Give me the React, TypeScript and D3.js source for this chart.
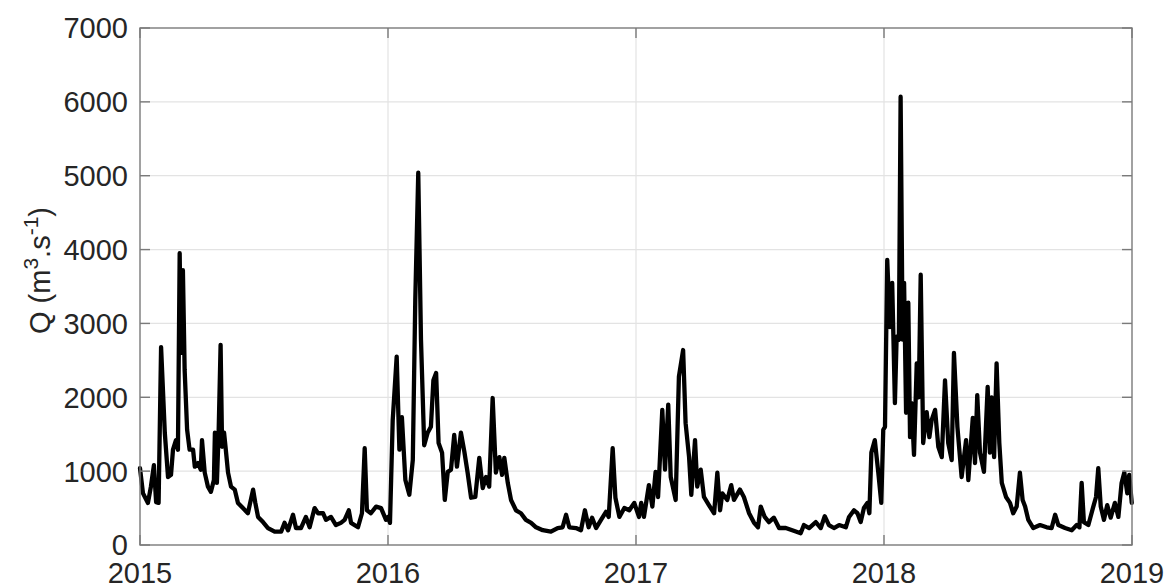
import React, { useRef, useEffect } from 'react';
import * as d3 from 'd3';

// [fraction of year, discharge m3/s]
const flow2015: [number, number][] = [
  [0, 1040], [0.012, 700], [0.032, 570], [0.044, 790], [0.056, 1080], [0.065, 580],
  [0.075, 570], [0.085, 2680], [0.1, 1520], [0.113, 920], [0.125, 950], [0.133, 1290],
  [0.145, 1420], [0.153, 1290], [0.16, 3950], [0.165, 2600], [0.173, 3720], [0.18, 2370],
  [0.19, 1560], [0.2, 1290], [0.214, 1290], [0.221, 1060], [0.234, 1110], [0.245, 1020],
  [0.25, 1420], [0.261, 980], [0.274, 790], [0.286, 720], [0.298, 880], [0.302, 1520],
  [0.31, 840], [0.317, 1520], [0.325, 2710], [0.331, 1330], [0.339, 1520], [0.346, 1290],
  [0.355, 980], [0.367, 790], [0.382, 750], [0.395, 570], [0.415, 500], [0.435, 430],
  [0.456, 750], [0.465, 570], [0.476, 380], [0.496, 310], [0.516, 230], [0.543, 180],
  [0.569, 180], [0.583, 300], [0.597, 200], [0.617, 410], [0.629, 230], [0.649, 230],
  [0.669, 380], [0.684, 240], [0.704, 500], [0.718, 430], [0.738, 430], [0.75, 340],
  [0.77, 380], [0.79, 270], [0.81, 300], [0.825, 340], [0.842, 470], [0.851, 300],
  [0.879, 240], [0.895, 430], [0.906, 1310], [0.915, 470], [0.931, 430], [0.952, 520],
  [0.972, 500], [0.992, 340],
];

const flow2016: [number, number][] = [
  [0, 380], [0.008, 300], [0.019, 1690], [0.035, 2550], [0.046, 1290], [0.056, 1730],
  [0.07, 880], [0.086, 680], [0.1, 1150], [0.11, 3320], [0.122, 5040], [0.133, 2780],
  [0.146, 1350], [0.16, 1520], [0.173, 1600], [0.183, 2230], [0.194, 2330], [0.204, 1380],
  [0.218, 1250], [0.229, 610], [0.241, 990], [0.254, 1020], [0.267, 1490], [0.278, 1060],
  [0.294, 1520], [0.308, 1260], [0.321, 980], [0.335, 640], [0.352, 650], [0.368, 1180],
  [0.382, 770], [0.395, 920], [0.408, 790], [0.422, 1990], [0.435, 980], [0.449, 1190],
  [0.46, 950], [0.469, 1180], [0.483, 840], [0.496, 610], [0.516, 470], [0.536, 430],
  [0.556, 340], [0.577, 300], [0.597, 240], [0.624, 200], [0.657, 180], [0.684, 230],
  [0.704, 240], [0.718, 410], [0.731, 240], [0.758, 230], [0.778, 200], [0.794, 470],
  [0.809, 240], [0.823, 370], [0.839, 230], [0.859, 340], [0.879, 450], [0.89, 380],
  [0.906, 1310], [0.917, 640], [0.933, 380], [0.953, 500], [0.973, 470], [0.993, 570],
];

const flow2017: [number, number][] = [
  [0.012, 380], [0.021, 570], [0.032, 380], [0.052, 810], [0.066, 520], [0.079, 990],
  [0.089, 650], [0.106, 1830], [0.117, 1020], [0.13, 1900], [0.14, 920], [0.16, 610],
  [0.173, 2280], [0.19, 2640], [0.2, 1650], [0.214, 1190], [0.223, 680], [0.238, 1420],
  [0.247, 790], [0.261, 1020], [0.274, 650], [0.294, 540], [0.315, 430], [0.328, 980],
  [0.339, 470], [0.348, 700], [0.368, 610], [0.384, 810], [0.395, 610], [0.419, 750],
  [0.435, 650], [0.456, 430], [0.476, 300], [0.492, 240], [0.503, 520], [0.519, 380],
  [0.536, 310], [0.556, 370], [0.577, 230], [0.604, 230], [0.63, 200], [0.664, 160],
  [0.677, 270], [0.698, 230], [0.725, 310], [0.745, 230], [0.761, 390], [0.778, 270],
  [0.798, 230], [0.819, 270], [0.846, 240], [0.859, 380], [0.879, 470], [0.893, 430],
  [0.906, 310], [0.919, 500], [0.933, 570], [0.941, 430], [0.949, 1250], [0.963, 1420],
  [0.977, 980], [0.989, 570], [0.997, 1560],
];

const flow2018: [number, number][] = [
  [0.004, 1600], [0.013, 3860], [0.024, 2950], [0.033, 3550], [0.044, 1920], [0.051, 2820],
  [0.06, 2780], [0.067, 6070], [0.075, 2780], [0.081, 3550], [0.089, 1790], [0.098, 3280],
  [0.105, 1460], [0.111, 1920], [0.121, 1220], [0.132, 2460], [0.14, 2000], [0.148, 3660],
  [0.158, 1380], [0.172, 1800], [0.183, 1460], [0.192, 1690], [0.206, 1830], [0.219, 1330],
  [0.233, 1190], [0.246, 2230], [0.259, 1380], [0.273, 1150], [0.282, 2600], [0.296, 1600],
  [0.313, 920], [0.331, 1420], [0.34, 880], [0.358, 1720], [0.367, 1110], [0.376, 2030],
  [0.387, 1250], [0.403, 990], [0.418, 2140], [0.427, 1250], [0.434, 2000], [0.444, 1190],
  [0.454, 2460], [0.465, 1380], [0.475, 840], [0.492, 650], [0.508, 570], [0.521, 430],
  [0.535, 520], [0.548, 980], [0.559, 610], [0.569, 520], [0.582, 340], [0.602, 230],
  [0.629, 270], [0.656, 240], [0.676, 230], [0.69, 410], [0.703, 270], [0.73, 230],
  [0.757, 200], [0.777, 270], [0.788, 240], [0.797, 840], [0.806, 310], [0.824, 270],
  [0.844, 520], [0.855, 650], [0.864, 1040], [0.874, 520], [0.887, 340], [0.9, 540],
  [0.914, 370], [0.931, 570], [0.945, 380], [0.958, 840], [0.969, 980], [0.981, 700],
  [0.989, 950], [0.999, 570],
];

const yearTicks = [2015, 2016, 2017, 2018, 2019];
const qTicks = [0, 1000, 2000, 3000, 4000, 5000, 6000, 7000];

const W = 1168;
const H = 588;

export default function App() {
  const ref = useRef<SVGSVGElement | null>(null);

  useEffect(() => {
    if (!ref.current) return;
    const svg = d3.select(ref.current);
    svg.selectAll('*').remove();

    const m = { top: 28, right: 36, bottom: 43, left: 140 };
    const x = d3.scaleLinear().domain([2015, 2019]).range([m.left, W - m.right]);
    const y = d3.scaleLinear().domain([0, 7000]).range([H - m.bottom, m.top]);

    const series = [
      ...flow2015.map(([f, q]) => ({ t: 2015 + f, q })),
      ...flow2016.map(([f, q]) => ({ t: 2016 + f, q })),
      ...flow2017.map(([f, q]) => ({ t: 2017 + f, q })),
      ...flow2018.map(([f, q]) => ({ t: 2018 + f, q })),
    ];

    const font = '"Liberation Sans", Arial, Helvetica, sans-serif';
    const x0 = x(2015), x1 = x(2019), y0 = y(0), y1 = y(7000);

    // grid
    svg.append('g')
      .selectAll('line')
      .data(qTicks.slice(1, -1))
      .join('line')
      .attr('x1', x0).attr('x2', x1)
      .attr('y1', (d) => y(d)).attr('y2', (d) => y(d))
      .attr('stroke', '#e3e3e3').attr('stroke-width', 1.2);
    svg.append('g')
      .selectAll('line')
      .data(yearTicks.slice(1, -1))
      .join('line')
      .attr('x1', (d) => x(d)).attr('x2', (d) => x(d))
      .attr('y1', y0).attr('y2', y1)
      .attr('stroke', '#e3e3e3').attr('stroke-width', 1.2);

    // data line
    const line = d3.line<{ t: number; q: number }>()
      .x((d) => x(d.t))
      .y((d) => y(d.q));
    svg.append('path')
      .datum(series)
      .attr('fill', 'none')
      .attr('stroke', '#000')
      .attr('stroke-width', 4.3)
      .attr('stroke-linejoin', 'round')
      .attr('stroke-linecap', 'round')
      .attr('d', line);

    // box + inward ticks
    const axisColor = '#7a7a7a';
    svg.append('rect')
      .attr('x', x0).attr('y', y1)
      .attr('width', x1 - x0).attr('height', y0 - y1)
      .attr('fill', 'none').attr('stroke', axisColor).attr('stroke-width', 1.4);

    const tickLen = 10;
    const ticks = svg.append('g').attr('stroke', axisColor).attr('stroke-width', 1.4);
    qTicks.forEach((q) => {
      ticks.append('line').attr('x1', x0).attr('x2', x0 + tickLen).attr('y1', y(q)).attr('y2', y(q));
      ticks.append('line').attr('x1', x1).attr('x2', x1 - tickLen).attr('y1', y(q)).attr('y2', y(q));
    });
    yearTicks.forEach((t) => {
      ticks.append('line').attr('x1', x(t)).attr('x2', x(t)).attr('y1', y0).attr('y2', y0 - tickLen);
      ticks.append('line').attr('x1', x(t)).attr('x2', x(t)).attr('y1', y1).attr('y2', y1 + tickLen);
    });

    // tick labels
    svg.append('g')
      .selectAll('text')
      .data(qTicks)
      .join('text')
      .attr('x', x0 - 12)
      .attr('y', (d) => y(d))
      .attr('dy', '0.36em')
      .attr('text-anchor', 'end')
      .attr('font-family', font)
      .attr('font-size', 29)
      .attr('fill', '#262626')
      .text((d) => String(d));

    svg.append('g')
      .selectAll('text')
      .data(yearTicks)
      .join('text')
      .attr('x', (d) => x(d))
      .attr('y', 583)
      .attr('text-anchor', 'middle')
      .attr('font-family', font)
      .attr('font-size', 29)
      .attr('fill', '#262626')
      .text((d) => String(d));

    // y label
    const yl = svg.append('text')
      .attr('transform', `translate(50,${(y0 + y1) / 2 - 16}) rotate(-90)`)
      .attr('text-anchor', 'middle')
      .attr('font-family', font)
      .attr('font-size', 29)
      .attr('fill', '#262626');
    yl.append('tspan').text('Q (m');
    yl.append('tspan').attr('font-size', 21).attr('dy', -12).text('3');
    yl.append('tspan').attr('dy', 12).text('.s');
    yl.append('tspan').attr('font-size', 21).attr('dy', -12).text('-1');
    yl.append('tspan').attr('dy', 12).text(')');
  }, []);

  return (
    <svg
      ref={ref}
      width={W}
      height={H}
      style={{ position: 'absolute', left: 0, top: 0, background: '#fff' }}
    />
  );
}
